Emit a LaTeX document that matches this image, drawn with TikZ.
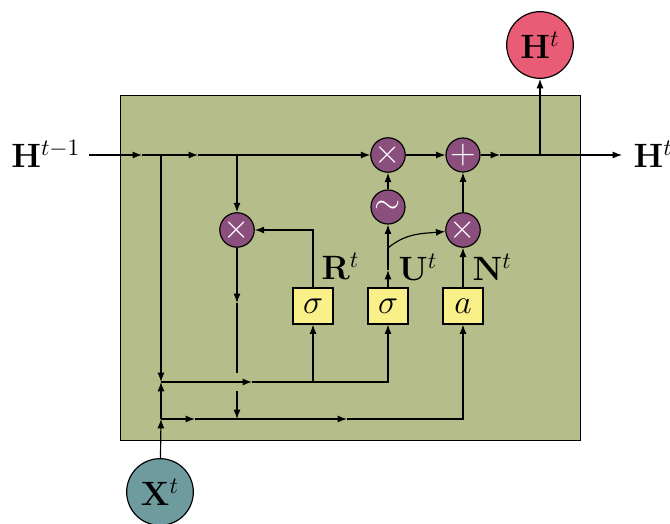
\documentclass[tikz,border=0pt]{standalone}
\usepackage{amsmath}
\usetikzlibrary{arrows.meta, positioning, calc}

\definecolor{cellgreen}{RGB}{181,190,138}
\definecolor{oppurple}{RGB}{139,79,125}
\definecolor{gateyellow}{RGB}{249,240,138}
\definecolor{statered}{RGB}{232,92,118}
\definecolor{inputteal}{RGB}{110,156,158}

\begin{document}
\begin{tikzpicture}[
        % pixel grid of the reference (y grows downwards)
        x=0.015cm, y=-0.015cm,
        font=\Large,
        line width=0.5pt,
        op/.style={circle, draw, fill=oppurple, text=white, minimum size=0.51cm, inner sep=0pt},
        gate/.style={rectangle, draw, fill=gateyellow, minimum width=0.6cm, minimum height=0.54cm, inner sep=0pt},
        state/.style={circle, draw, minimum size=1cm, inner sep=0pt},
        arrow/.style={-{Latex[length=4pt, width=3pt]}}
    ]
    \useasboundingbox (0,0) rectangle (670,524);

    % Cell
    \node (cell) [draw, fill=cellgreen, minimum width=6.9cm, minimum height=5.175cm, anchor=north west] at (120,95) {};

    % Operators
    \node (mulh) [op] at (388,155) {$\times$};
    \node (add) [op] at (463,155) {$+$};
    \node (tanh) [op] at (388,207) {$\sim$};
    \node (mulr) [op] at (237,230) {$\times$};
    \node (mulz) [op] at (463,230) {$\times$};

    % Gates
    \node (gr) [gate] at (313,306) {$\sigma$};
    \node (gu) [gate] at (388,306) {$\sigma$};
    \node (ga) [gate] at (463,306) {$a$};

    % Inputs / outputs
    \node (hout) [state, fill=statered] at (540,45) {$\mathbf{H}^t$};
    \node (xin) [state, fill=inputteal] at (160,492) {$\mathbf{X}^t$};
    \node (hin) [anchor=base east] at (89,168) {$\mathbf{H}^{t-1}$};
    \node (hnext) [anchor=base west, inner sep=0pt] at (633,168) {$\mathbf{H}^t$};

    \node (rlbl) [anchor=base west, inner sep=0pt] at (321,280) {$\mathbf{R}^t$};
    \node (ulbl) [anchor=base west, inner sep=0pt] at (398,281) {$\mathbf{U}^t$};
    \node (nlbl) [anchor=base west, inner sep=0pt] at (472,281) {$\mathbf{N}^t$};

    % Points on the wires
    \coordinate (t1) at (142,155);
    \coordinate (t2) at (198,155);
    \coordinate (j1) at (161,155);
    \coordinate (j2) at (237,155);
    \coordinate (t3) at (500,155);
    \coordinate (t4) at (622,155);
    \coordinate (j4) at (540,155);
    \coordinate (m1) at (161,382);
    \coordinate (m2) at (252,382);
    \coordinate (j3) at (313,382);
    \coordinate (b1) at (161,419);
    \coordinate (b2) at (195,419);
    \coordinate (b3) at (347,419);
    \coordinate (u1) at (388,270);
    \coordinate (u2) at (388,248);

    % Hidden state line
    \draw [arrow] (hin.east |- t1) -- (t1);
    \draw [arrow] (t1) -- (t2);
    \draw [arrow] (t2) -- (mulh);
    \draw [arrow] (mulh) -- (add);
    \draw [arrow] (add) -- (t3);
    \draw [arrow] (t3) -- (t4);
    \draw [arrow] (j4) -- (hout);

    % Reset path
    \draw [arrow] (j2) -- (mulr);
    \draw [arrow] (mulr) -- (237,303);
    \draw (237,303) -- (237,373);
    \draw [arrow] (237,391) -- (237,419);
    \draw [arrow] (gr) |- (mulr);

    % Input lines
    \draw [arrow] (j1) -- (m1);
    \draw [arrow] (xin) -- (b1);
    \draw [arrow] (b1) -- (m1);
    \draw [arrow] (m1) -- (m2);
    \draw [arrow] (m2) -| (gu);
    \draw [arrow] (j3) -- (gr);
    \draw [arrow] (b1) -- (b2);
    \draw [arrow] (b2) -- (b3);
    \draw [arrow] (b3) -| (ga);

    % Update and candidate
    \draw [arrow] (gu) -- (u1);
    \draw [arrow] (u1) -- (tanh);
    \draw [arrow] (tanh) -- (mulh);
    \draw [arrow] (u2) to[out=40, in=185] (mulz);
    \draw [arrow] (ga) -- (mulz);
    \draw [arrow] (mulz) -- (add);

\end{tikzpicture}
\end{document}
